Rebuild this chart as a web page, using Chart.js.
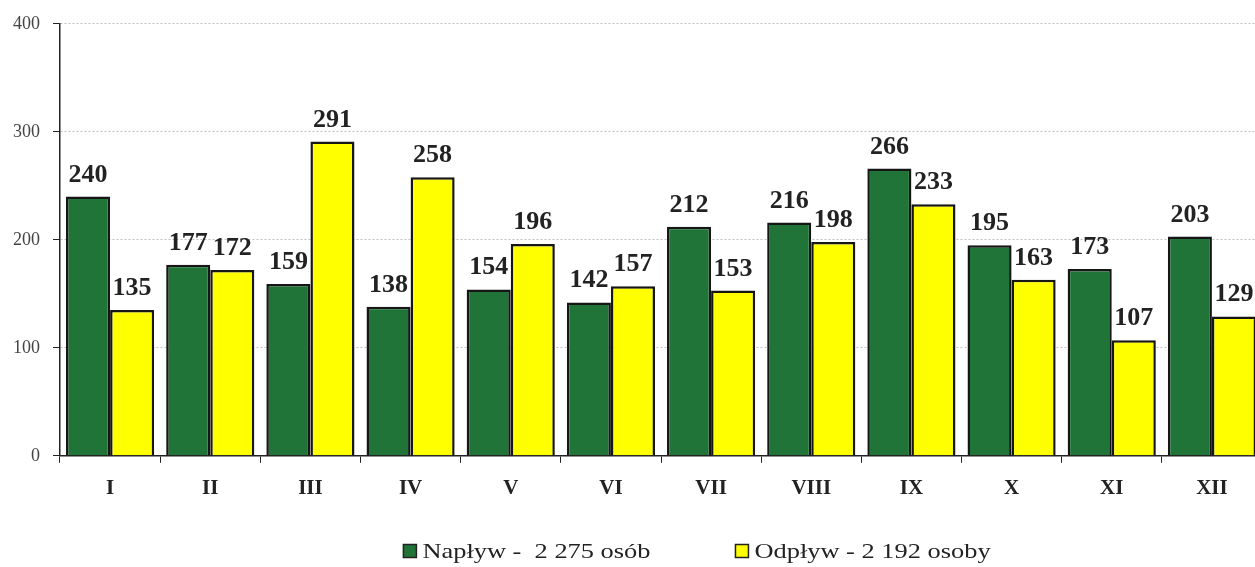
<!DOCTYPE html>
<html>
<head>
<meta charset="utf-8">
<script src="https://cdn.jsdelivr.net/npm/chart.js@4/dist/chart.umd.min.js"></script>
<style>
  html, body { margin: 0; padding: 0; background: #fff; overflow: hidden; }
  #wrap { position: relative; width: 1262px; height: 567px; }
</style>
</head>
<body>
<div id="wrap"><canvas id="chart"></canvas></div>
<script>
const months = ["I", "II", "III", "IV", "V", "VI", "VII", "VIII", "IX", "X", "XI", "XII"]
const inflow = [240, 177, 159, 138, 154, 142, 212, 216, 266, 195, 173, 203]
const outflow = [135, 172, 291, 258, 196, 157, 153, 198, 233, 163, 107, 129]
const seriesNames = ["Napływ -  2 275 osób", "Odpływ - 2 192 osoby"]
const seriesColors = ["#217437", "#ffff00"]
const yTicks = [0, 100, 200, 300, 400]

const serif = "'Liberation Serif', 'Times New Roman', serif"

// value labels above each bar
const barLabels = {
  id: "barLabels",
  afterDatasetsDraw(chart) {
    const ctx = chart.ctx
    ctx.save()
    ctx.font = "bold 26px " + serif
    ctx.fillStyle = "#222"
    ctx.textAlign = "center"
    ctx.textBaseline = "alphabetic"
    chart.data.datasets.forEach((ds, i) => {
      chart.getDatasetMeta(i).data.forEach((bar, j) => {
        ctx.fillText(ds.data[j], bar.x, bar.y - 15)
      })
    })
    ctx.restore()
  }
}

// legend drawn by hand so the item spacing matches (text is a bit stretched in the original)
const bottomLegend = {
  id: "bottomLegend",
  afterDraw(chart) {
    const ctx = chart.ctx
    const stretch = 1.2
    const box = 13, boxGap = 6, itemGap = 85
    const y = 551
    ctx.save()
    ctx.font = "22px " + serif
    const widths = seriesNames.map(n => ctx.measureText(n).width * stretch)
    const total = widths.reduce((a, w) => a + box + boxGap + w, 0) + itemGap
    let x = 697 - total / 2
    seriesNames.forEach((name, i) => {
      ctx.fillStyle = seriesColors[i]
      ctx.fillRect(x, y - box / 2, box, box)
      ctx.strokeStyle = "#222"
      ctx.lineWidth = 1.5
      ctx.strokeRect(x, y - box / 2, box, box)
      x += box + boxGap
      ctx.save()
      ctx.translate(x, y)
      ctx.scale(stretch, 1)
      ctx.fillStyle = "#222"
      ctx.textBaseline = "middle"
      ctx.fillText(name, 0, 1)
      ctx.restore()
      x += widths[i] + itemGap
    })
    ctx.restore()
  }
}

new Chart(document.getElementById("chart"), {
  type: "bar",
  data: {
    labels: months,
    datasets: seriesNames.map((name, i) => ({
      label: name,
      data: i === 0 ? inflow : outflow,
      backgroundColor: seriesColors[i],
      borderColor: "#161616",
      borderWidth: 2.5,
      borderSkipped: "bottom"
    }))
  },
  options: {
    responsive: true,
    maintainAspectRatio: false,
    animation: false,
    layout: { padding: { top: 20, left: 0, right: 0, bottom: 53 } },
    datasets: { bar: { categoryPercentage: 0.88, barPercentage: 1 } },
    scales: {
      x: {
        grid: {
          offset: true,
          drawOnChartArea: false,
          color: "#222",
          tickLength: 7
        },
        border: { color: "#222", width: 1.5 },
        ticks: {
          padding: 13,
          color: "#222",
          font: { family: serif, size: 21, weight: "bold" }
        }
      },
      y: {
        min: 0,
        max: 400,
        afterBuildTicks: (axis) => { axis.ticks = yTicks.map(v => ({ value: v })) },
        grid: {
          color: "#c0c0c0",
          tickColor: "#222",
          tickLength: 7,
          tickBorderDash: []
        },
        border: { color: "#222", width: 1.5, dash: [2, 2] },
        ticks: {
          padding: 13,
          color: "#444",
          font: { family: serif, size: 18 }
        }
      }
    },
    plugins: {
      legend: { display: false },
      tooltip: { enabled: false }
    }
  },
  plugins: [barLabels, bottomLegend]
})
</script>
</body>
</html>
